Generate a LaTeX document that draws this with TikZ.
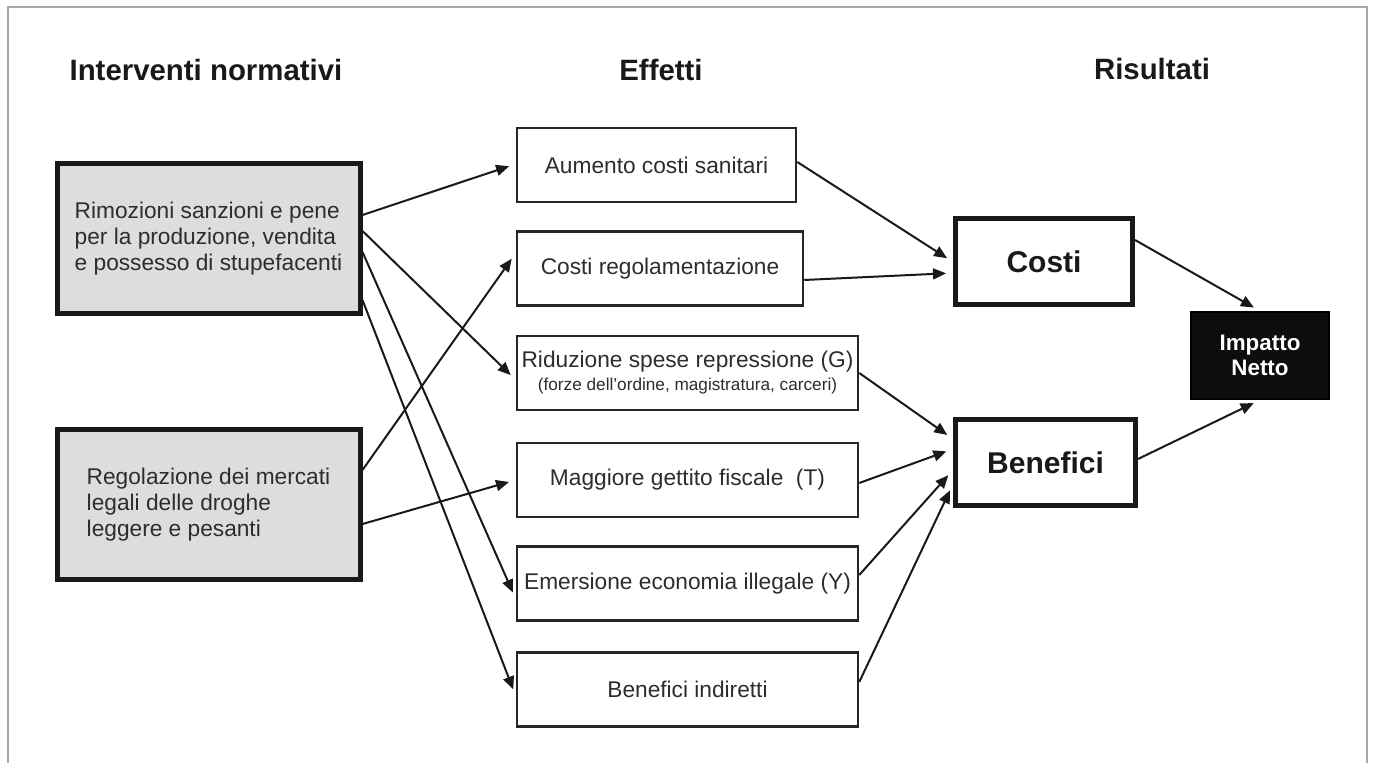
\documentclass[tikz,border=0pt]{standalone}
\usepackage{fontspec}
\setmainfont{Liberation Sans}
\usepackage{xcolor}
\usepackage{tikz}
\usetikzlibrary{arrows.meta}
\definecolor{grigio}{RGB}{221,221,221}
\definecolor{testo}{RGB}{45,45,45}

\begin{document}
\begin{tikzpicture}[x=0.5pt,y=-0.5pt,line width=1pt,font=\fontsize{11.35}{13}\selectfont]
	\tikzstyle{every node}=[rectangle,inner sep=0pt,text=testo]
	\tikzstyle{titolo}=[font=\bfseries\fontsize{14.7}{17}\selectfont,text=black!90]
	\tikzstyle{legge}=[draw=black!90,fill=grigio,line width=2.5pt,minimum width=151.5pt,minimum height=75pt,align=left]
	\tikzstyle{effetto}=[draw=black!85,fill=white,line width=1.25pt,minimum height=37pt,align=center]
	\tikzstyle{risultato}=[draw=black!90,fill=white,line width=2.5pt,minimum height=43pt,font=\bfseries\fontsize{15}{18}\selectfont,text=black!90]
	\tikzstyle{impatto}=[draw=black,fill=black!95,text=white,minimum width=69pt,minimum height=43.5pt,align=center,font=\bfseries\fontsize{11.2}{12.5}\selectfont]
	\tikzstyle{freccia}=[-{Triangle[length=6.5pt,width=5.5pt]},line width=1pt,draw=black!90,shorten >=3.5pt]
	\useasboundingbox (0,0) rectangle (1375,763);
	\draw[black!35,line width=0.7pt] (8,763) -- (8,7) -- (1367,7) -- (1367,763);

	\node[titolo] (T1) at (206,70) {Interventi normativi};
	\node[titolo] (T2) at (661,70) {Effetti};
	\node[titolo] (T3) at (1152,69) {Risultati};

	\node[legge] (LEGGE1) at (208.5,238.5) {Rimozioni sanzioni e pene\\per la produzione, vendita\\e possesso di stupefacenti};
	\node[legge] (LEGGE2) at (208.5,504.5) {Regolazione dei mercati\\legali delle droghe\\leggere e pesanti};

	\node[effetto,minimum width=139.5pt] (EFF1) at (656.5,165) {Aumento costi sanitari};
	\node[effetto,minimum width=143pt] (EFF2) at (660,268.5) {Costi regolamentazione};
	\node[effetto,minimum width=170.5pt] (EFF3) at (687.5,373) {Riduzione spese repressione (G)\\[-1.5pt]{\fontsize{8.6}{10}\selectfont(forze dell’ordine, magistratura, carceri)}};
	\node[effetto,minimum width=170.5pt] (EFF4) at (687.5,480) {Maggiore gettito fiscale~~(T)};
	\node[effetto,minimum width=170.5pt] (EFF5) at (687.5,583.5) {Emersione economia illegale (Y)};
	\node[effetto,minimum width=170.5pt] (EFF6) at (687.5,689.5) {Benefici indiretti};

	\node[risultato,minimum width=88.5pt] (COSTI) at (1044,261.5) {Costi};
	\node[risultato,minimum width=90pt] (BENEFICI) at (1045.5,462.5) {Benefici};
	\node[impatto] (IMPATTO) at (1260,355.5) {Impatto\\Netto};

	\draw[freccia] (LEGGE1.east |- 0,215) to (EFF1.west |- 0,164);
	\draw[freccia] (LEGGE1.east |- 0,231) to (EFF3.west |- 0,380);
	\draw[freccia] (LEGGE1.east |- 0,252) to (EFF5.west |- 0,599);
	\draw[freccia] (LEGGE1.east |- 0,300) to (EFF6.west |- 0,696);
	\draw[freccia] (LEGGE2.east |- 0,470) to (EFF2.west |- 0,253);
	\draw[freccia] (LEGGE2.east |- 0,524) to (EFF4.west |- 0,480);

	\draw[freccia] (EFF1.east |- 0,162) to (COSTI.west |- 0,262);
	\draw[freccia] (EFF2.east |- 0,280) to (COSTI.west |- 0,273);
	\draw[freccia] (EFF3.east |- 0,373) to (BENEFICI.west |- 0,439);
	\draw[freccia] (EFF4.east |- 0,483) to (BENEFICI.west |- 0,449);
	\draw[freccia] (EFF5.east |- 0,575) to (BENEFICI.west |- 0,470);
	\draw[freccia] (EFF6.east |- 0,682) to (BENEFICI.west |- 0,484);

	\draw[freccia] (COSTI.east |- 0,240) to (IMPATTO.north);
	\draw[freccia] (BENEFICI.east |- 0,459) to (IMPATTO.south);
\end{tikzpicture}
\end{document}
